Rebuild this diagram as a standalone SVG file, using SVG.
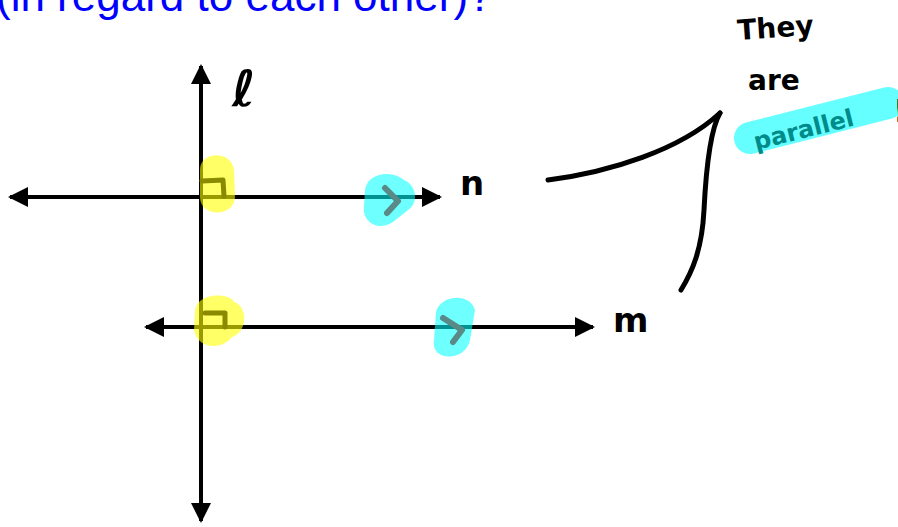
<svg xmlns="http://www.w3.org/2000/svg" width="898" height="527" viewBox="0 0 898 527">
<style>
.ax{stroke:#000;stroke-width:4;fill:none}
.hand{font-family:"DejaVu Sans",sans-serif;font-weight:bold;fill:#000}
.ink{stroke:#000;stroke-width:5;fill:none;stroke-linecap:round;stroke-linejoin:round}
.yel{fill:#ffff00;fill-opacity:0.6}
.cy{fill:#00ffff;fill-opacity:0.57}
.mark{stroke:#8a8a00;stroke-width:5;fill:none;stroke-linecap:round;stroke-linejoin:round}
.gmark{stroke:#5a8a88;stroke-width:6;fill:none;stroke-linecap:round;stroke-linejoin:round}
</style>
<defs>
<marker id="ah" viewBox="0 0 10 10" refX="9" refY="5" markerWidth="5" markerHeight="5" orient="auto-start-reverse" markerUnits="strokeWidth">
<path d="M0,0 L10,5 L0,10 z" fill="#000"/>
</marker>
</defs>
<rect width="898" height="527" fill="#fff"/>
<text x="-4" y="11" font-family="Liberation Sans, Arial, sans-serif" font-size="44" fill="#0000ff">(in regard to each other)?</text>

<g id="line-l">
<line class="ax" x1="201" y1="66" x2="201" y2="521" marker-start="url(#ah)" marker-end="url(#ah)"/>
<text class="hand" x="232" y="106" font-size="50" font-family="Liberation Serif, serif" font-style="italic">ℓ</text>
</g>
<g id="line-n">
<line class="ax" x1="10" y1="197" x2="440" y2="197" marker-start="url(#ah)" marker-end="url(#ah)"/>
<text class="hand" x="460" y="195" font-size="34">n</text>
</g>
<g id="line-m">
<line class="ax" x1="146" y1="327" x2="593" y2="327" marker-start="url(#ah)" marker-end="url(#ah)"/>
<text class="hand" x="613" y="332" font-size="34">m</text>
</g>

<g id="right-angle-n">
<path class="yel" d="M200,170 C200,150 234,150 234,172 L235,195 C236,218 200,218 200,197 Z"/>
<path class="mark" d="M202,181 L223,180 L224,196"/>
</g>
<g id="right-angle-m">
<path class="yel" d="M195,312 C195,292 230,292 234,302 C248,306 248,332 232,337 C222,350 198,350 194,330 Z"/>
<path class="mark" d="M205,313 L225,313 L225,327"/>
</g>
<g id="parallel-mark-n">
<path class="cy" d="M365,190 C368,172 392,170 404,180 C418,186 418,204 408,210 L393,222 C378,232 362,222 364,206 Z"/>
<path class="gmark" d="M385,188 L398,201 L387,213"/>
</g>
<g id="parallel-mark-m">
<path class="cy" d="M436,312 C440,295 470,292 475,310 L470,340 C466,362 430,362 434,340 Z"/>
<path class="gmark" d="M443,318 L462,330 L453,342"/>
</g>

<g id="note">
<text class="hand" x="738" y="40" font-size="28" transform="rotate(-4 738 40)">They</text>
<text class="hand" x="748" y="90" font-size="28">are</text>
<line x1="750" y1="138" x2="888" y2="103" stroke="#00ffff" stroke-opacity="0.6" stroke-width="32" stroke-linecap="round"/>
<text x="756" y="150" font-family="DejaVu Sans, sans-serif" font-weight="bold" font-size="24" fill="#008b8b" transform="rotate(-14 756 150)">parallel</text>
<text class="hand" x="893" y="122" font-size="32">!</text>
</g>

<g id="connectors">
<path class="ink" d="M548,180 C610,172 680,150 720,113"/>
<path class="ink" d="M720,113 C710,130 706,170 704,210 C702,250 692,272 681,290"/>
</g>
</svg>
